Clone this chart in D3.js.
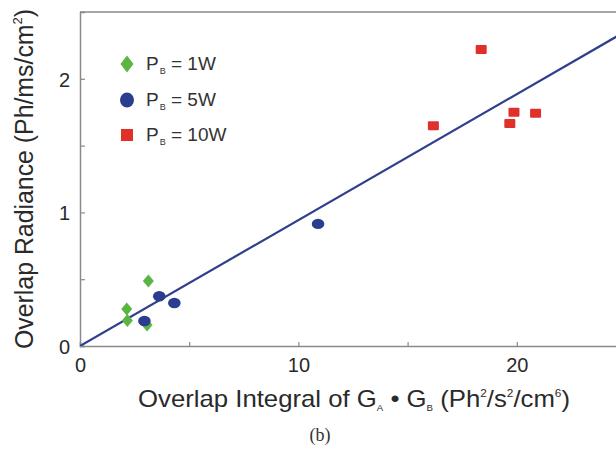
<!DOCTYPE html>
<html>
<head>
<meta charset="utf-8">
<script src="https://cdn.jsdelivr.net/npm/d3@7"></script>
<style>
  body { margin: 0; background: #fff; }
  svg { display: block; }
</style>
</head>
<body>
<svg id="chart" width="616" height="449" font-family="Liberation Sans, Arial, sans-serif"></svg>
<script>
// ---- data ----
const p1W_x = [3.13, 2.14, 2.17, 3.07];
const p1W_y = [0.487, 0.277, 0.19, 0.157];
const p5W_x = [3.63, 4.32, 2.95, 10.9];
const p5W_y = [0.372, 0.322, 0.187, 0.914];
const p10W_x = [16.18, 18.37, 19.87, 19.68, 20.86];
const p10W_y = [1.648, 2.219, 1.75, 1.665, 1.743];
const fitLine_x = [0, 25];
const fitLine_y = [0, 2.357];
const xTicks = [0, 10, 20];
const xMinorTicks = [5, 15];
const yTicks = [0, 1, 2];
const yMinorTicks = [0.5, 1.5];
const legendLabels = ["1W", "5W", "10W"];

(function () {
const svg = d3.select("#chart");
const mLeft = 80, mRight = 626, mTop = 12, mBottom = 346;
const x = d3.scaleLinear().domain([0, 25]).range([mLeft, mRight]);
const y = d3.scaleLinear().domain([0, 2.5]).range([mBottom, mTop]);

const axisColor = "#8a8a8a";
const textColor = "#2a2a2a";
const green = "#5bb543", blue = "#2a3d8f", red = "#df3129", lineColor = "#2f3f8c";

// frame top
svg.append("line").attr("x1", mLeft).attr("x2", 616).attr("y1", mTop).attr("y2", mTop)
  .attr("stroke", axisColor).attr("stroke-width", 1.5);

// x axis
const xAxis = d3.axisBottom(x).tickValues(xTicks.concat(xMinorTicks))
  .tickSize(-4).tickFormat(d => xTicks.includes(d) ? d : "");
const xg = svg.append("g").attr("transform", `translate(0,${mBottom})`).call(xAxis);
xg.attr("font-family", null).attr("font-size", null);
xg.select(".domain").attr("stroke", axisColor).attr("stroke-width", 1.5);
xg.selectAll(".tick line").attr("stroke", axisColor).attr("stroke-width", 1.2);
xg.selectAll(".tick text").attr("fill", textColor).attr("font-size", 20)
  .attr("y", 12).attr("dy", "0.71em");

// y axis
const yAxis = d3.axisLeft(y).tickValues(yTicks.concat(yMinorTicks))
  .tickSize(-5).tickFormat(d => yTicks.includes(d) ? d : "");
const yg = svg.append("g").attr("transform", `translate(${mLeft},0)`).call(yAxis);
yg.attr("font-family", null).attr("font-size", null);
yg.select(".domain").attr("stroke", axisColor).attr("stroke-width", 1.5);
yg.selectAll(".tick line").attr("stroke", axisColor).attr("stroke-width", 1.2);
yg.selectAll(".tick text").attr("fill", textColor).attr("font-size", 20)
  .attr("x", -10).attr("dy", "0.36em");

// fit line
svg.append("clipPath").attr("id", "plotclip").append("rect")
  .attr("x", mLeft).attr("y", mTop).attr("width", 616 - mLeft).attr("height", mBottom - mTop);
svg.append("line")
  .attr("clip-path", "url(#plotclip)")
  .attr("x1", x(fitLine_x[0])).attr("y1", y(fitLine_y[0]))
  .attr("x2", x(fitLine_x[1])).attr("y2", y(fitLine_y[1]))
  .attr("stroke", lineColor).attr("stroke-width", 2.2);

// markers
const diamond = (cx, cy, w, h) => `M${cx},${cy-h/2} L${cx+w/2},${cy} L${cx},${cy+h/2} L${cx-w/2},${cy} Z`;

svg.append("g").selectAll("path").data(d3.range(p1W_x.length)).join("path")
  .attr("d", i => diamond(x(p1W_x[i]), y(p1W_y[i]), 11, 13)).attr("fill", green);
svg.append("g").selectAll("ellipse").data(d3.range(p5W_x.length)).join("ellipse")
  .attr("cx", i => x(p5W_x[i])).attr("cy", i => y(p5W_y[i]))
  .attr("rx", 6.3).attr("ry", 5.2).attr("fill", blue);
svg.append("g").selectAll("rect").data(d3.range(p10W_x.length)).join("rect")
  .attr("x", i => x(p10W_x[i]) - 5.5).attr("y", i => y(p10W_y[i]) - 4.5)
  .attr("width", 11).attr("height", 9).attr("rx", 1).attr("fill", red);

// legend
const legY = [64, 100, 135];
const lx = 127;
svg.append("path").attr("d", diamond(lx, legY[0], 13, 17)).attr("fill", green);
svg.append("ellipse").attr("cx", lx).attr("cy", legY[1]).attr("rx", 7).attr("ry", 7.5).attr("fill", blue);
svg.append("rect").attr("x", lx - 6).attr("y", legY[2] - 6).attr("width", 12).attr("height", 12).attr("fill", red);
legendLabels.forEach((lab, i) => {
  const t = svg.append("text").attr("x", 146).attr("y", legY[i] + 6)
    .attr("font-size", 19).attr("fill", "#333");
  t.append("tspan").text("P");
  t.append("tspan").text("B").attr("font-size", 9).attr("dy", 4).attr("dx", 1);
  t.append("tspan").text(" = " + lab).attr("dy", -4);
});

// y title
const yt = svg.append("text")
  .attr("transform", `translate(33,179) rotate(-90)`)
  .attr("text-anchor", "middle").attr("font-size", 25).attr("fill", textColor)
  .attr("textLength", 340).attr("lengthAdjust", "spacingAndGlyphs");
yt.append("tspan").text("Overlap Radiance (Ph/ms/cm");
yt.append("tspan").text("2").attr("font-size", 13).attr("dy", -11);
yt.append("tspan").text(")").attr("dy", 11);

// x title
const xt = svg.append("text").attr("x", 354).attr("y", 407)
  .attr("text-anchor", "middle").attr("font-size", 24).attr("fill", textColor)
  .attr("textLength", 432).attr("lengthAdjust", "spacingAndGlyphs");
xt.append("tspan").text("Overlap Integral of G");
xt.append("tspan").text("A").attr("font-size", 9).attr("dy", 4);
xt.append("tspan").text(" \u2022 G").attr("dy", -4);
xt.append("tspan").text("B").attr("font-size", 9).attr("dy", 4);
xt.append("tspan").text(" (Ph").attr("dy", -4);
xt.append("tspan").text("2").attr("font-size", 11).attr("dy", -10);
xt.append("tspan").text("/s").attr("dy", 10);
xt.append("tspan").text("2").attr("font-size", 11).attr("dy", -10);
xt.append("tspan").text("/cm").attr("dy", 10);
xt.append("tspan").text("6").attr("font-size", 11).attr("dy", -10);
xt.append("tspan").text(")").attr("dy", 10);

// caption
svg.append("text").attr("x", 320).attr("y", 441).attr("text-anchor", "middle")
  .attr("font-size", 18).attr("font-family", "Liberation Serif, Times New Roman, serif")
  .attr("fill", "#333").text("(b)");
})();
</script>
</body>
</html>
